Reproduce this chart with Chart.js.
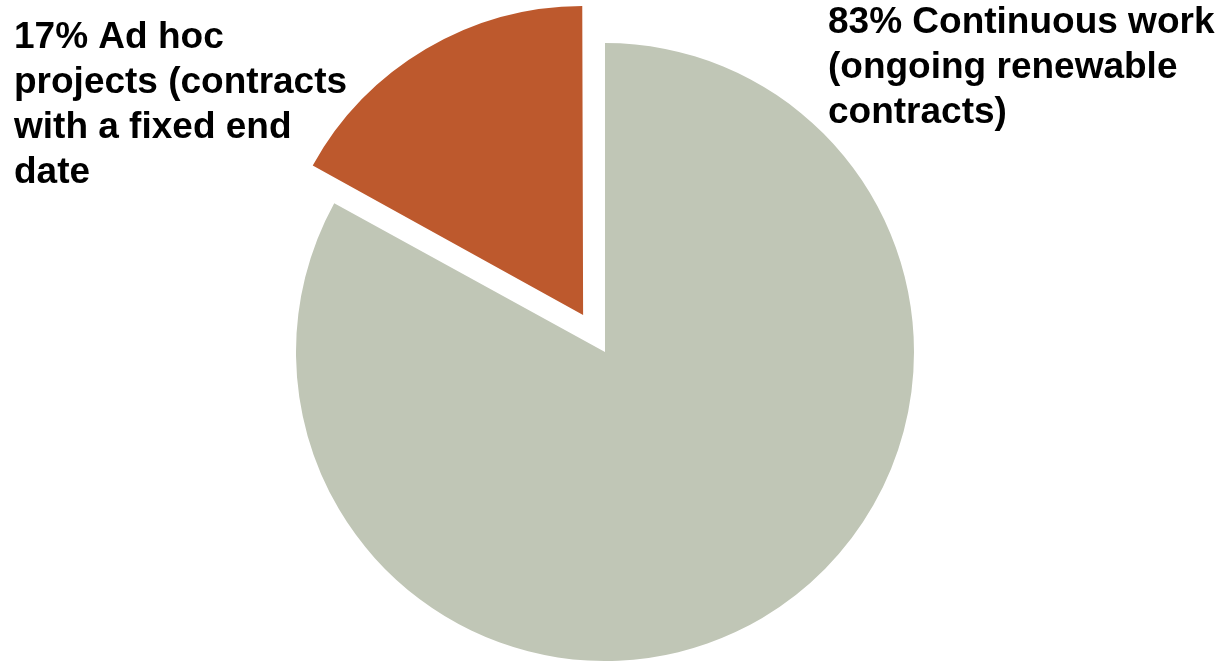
<!DOCTYPE html>
<html>
<head>
<meta charset="utf-8">
<script src="https://cdn.jsdelivr.net/npm/chart.js@4/dist/chart.umd.min.js"></script>
<style>
  html, body { margin: 0; padding: 0; background: #ffffff; }
  #wrap { width: 1223px; height: 661px; position: relative; }
</style>
</head>
<body>
<div id="wrap"><canvas id="pie" width="1223" height="661"></canvas></div>
<script>
// Share of work by contract type
const categories = ['Continuous work', 'Ad hoc projects'];
const shares = [83, 17];
const sliceColors = ['#C0C6B6', '#BD592D'];
// Wrapped label text for each slice
const labelLines = [
  ['83% Continuous work', '(ongoing renewable', 'contracts)'],
  ['17% Ad hoc', 'projects (contracts', 'with a fixed end', 'date']
];

// Keep exploded slices at the same radius as the rest of the pie
// (Chart.js grows an offset arc's radius slightly while pulling it out).
const keepRadius = {
  id: 'keepRadius',
  beforeDatasetsDraw(chart) {
    const meta = chart.getDatasetMeta(0);
    meta.data.forEach((arc) => {
      const off = (arc.options.offset || 0) / 4;
      const fix = 1 - Math.sin(Math.min(Math.PI, arc.circumference || 0));
      if (!arc._baseR) arc._baseR = arc.outerRadius;
      arc.outerRadius = arc._baseR - off * fix;
    });
  }
};

// Draws the multi-line slice labels in the corners
const cornerLabels = {
  id: 'cornerLabels',
  afterDraw(chart) {
    const ctx = chart.ctx;
    ctx.save();
    ctx.fillStyle = '#000000';
    ctx.font = 'bold 37px "Liberation Sans", Arial, sans-serif';
    ctx.textBaseline = 'alphabetic';
    ctx.textAlign = 'left';
    const spots = [
      { x: 828, y: 33, lh: 45 },
      { x: 14, y: 48, lh: 45 }
    ];
    labelLines.forEach((lines, i) => {
      lines.forEach((t, j) => ctx.fillText(t, spots[i].x, spots[i].y + j * spots[i].lh));
    });
    ctx.restore();
  }
};

new Chart(document.getElementById('pie'), {
  type: 'pie',
  data: {
    labels: categories,
    datasets: [{
      data: shares,
      backgroundColor: sliceColors,
      borderWidth: 0,
      offset: [0, 172]
    }]
  },
  options: {
    responsive: false,
    animation: false,
    radius: 309,
    layout: { padding: { left: 0, right: 13, top: 43, bottom: 0 } },
    plugins: {
      legend: { display: false },
      tooltip: { enabled: false }
    }
  },
  plugins: [keepRadius, cornerLabels]
});
</script>
</body>
</html>
